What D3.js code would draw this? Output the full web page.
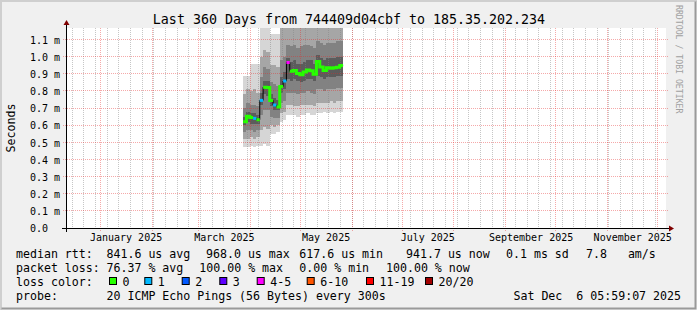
<!DOCTYPE html>
<html>
<head>
<meta charset="utf-8">
<script src="https://cdn.jsdelivr.net/npm/d3@7"></script>
<style>
body{margin:0;background:#fff}
text{font-family:"DejaVu Sans Mono",monospace;fill:#000;white-space:pre}
</style>
</head>
<body>
<svg id="chart"></svg>
<script>
// time window of the graph (UTC)
var timeRange=["2024-12-11T05:59:07Z","2025-12-06T05:59:07Z"];

// samples, every 2 days (values in ms)
var dates=["2025-03-27T12:00Z","2025-03-29T12:00Z","2025-03-31T12:00Z","2025-04-02T12:00Z","2025-04-04T12:00Z",
           "2025-04-06T12:00Z","2025-04-08T12:00Z","2025-04-10T12:00Z","2025-04-12T12:00Z","2025-04-14T12:00Z",
           "2025-04-16T12:00Z","2025-04-18T12:00Z","2025-04-20T12:00Z","2025-04-22T12:00Z","2025-04-24T12:00Z",
           "2025-04-26T12:00Z","2025-04-28T12:00Z","2025-04-30T12:00Z","2025-05-02T12:00Z","2025-05-04T12:00Z",
           "2025-05-06T12:00Z","2025-05-08T12:00Z","2025-05-10T12:00Z","2025-05-12T12:00Z","2025-05-14T12:00Z",
           "2025-05-16T12:00Z","2025-05-18T12:00Z","2025-05-20T12:00Z","2025-05-22T12:00Z","2025-05-24T12:00Z"];
var dataEnd="2025-05-26T12:00Z";
var median=[0.620,0.652,0.645,0.640,0.632, 0.745,0.822,0.820,0.745,0.718, 0.706,0.826,0.858,0.966,0.915,
            0.920,0.902,0.895,0.910,0.922, 0.918,0.898,0.972,0.940,0.920, 0.935,0.932,0.935,0.938,0.948];
var loss=[0,0,0,1,0, 1,0,0,0,1, 0,0,1,4,0, 0,0,0,0,0, 0,0,0,0,0, 0,0,0,0,0];
var pMin=[0.47,0.47,0.48,0.47,0.48, 0.48,0.49,0.48,0.55,0.55, 0.56,0.62,0.63,0.66,0.66,
          0.66,0.65,0.66,0.66,0.67, 0.66,0.66,0.67,0.67,0.68, 0.67,0.68,0.67,0.68,0.68];
var p10=[0.52,0.52,0.53,0.52,0.53, 0.57,0.59,0.58,0.60,0.59, 0.60,0.67,0.68,0.72,0.72,
         0.71,0.71,0.72,0.72,0.72, 0.72,0.71,0.73,0.73,0.73, 0.73,0.74,0.73,0.74,0.74];
var p25=[0.56,0.57,0.57,0.56,0.57, 0.66,0.69,0.69,0.65,0.64, 0.64,0.73,0.74,0.79,0.79,
         0.79,0.78,0.79,0.79,0.80, 0.79,0.78,0.81,0.81,0.80, 0.81,0.81,0.81,0.82,0.82];
var p40=[0.60,0.62,0.61,0.61,0.61, 0.72,0.78,0.77,0.71,0.69, 0.69,0.79,0.81,0.87,0.86,
         0.87,0.86,0.85,0.86,0.87, 0.87,0.86,0.89,0.88,0.87, 0.88,0.88,0.88,0.89,0.89];
var p60=[0.65,0.68,0.67,0.67,0.66, 0.79,0.86,0.86,0.78,0.76, 0.75,0.88,0.91,0.99,0.97,
         0.98,0.96,0.96,0.97,0.98, 0.98,0.96,1.01,0.99,0.98, 0.99,0.99,0.99,1.00,1.00];
var p75=[0.70,0.73,0.72,0.72,0.71, 0.88,0.94,0.93,0.85,0.84, 0.83,0.98,1.00,1.07,1.06,
         1.07,1.05,1.06,1.07,1.07, 1.06,1.05,1.09,1.08,1.07, 1.08,1.08,1.08,1.09,1.09];
var p90=[0.78,0.81,0.80,0.81,0.79, 1.00,1.04,1.03,0.95,0.95, 0.94,1.25,1.25,1.30,1.30,
         1.30,1.30,1.30,1.30,1.30, 1.30,1.30,1.30,1.30,1.30, 1.30,1.30,1.30,1.30,1.30];
var pMax=[0.89,0.89,0.96,0.96,0.96, 1.17,1.17,1.17,1.13,1.13, 1.13,1.30,1.30,1.40,1.40,
          1.40,1.40,1.40,1.40,1.40, 1.40,1.40,1.40,1.40,1.40, 1.40,1.40,1.40,1.40,1.40];

var yTicks=[0,0.1,0.2,0.3,0.4,0.5,0.6,0.7,0.8,0.9,1.0,1.1];
var lossLabels=["0","1","2","3","4-5","6-10","11-19","20/20"];
var lossColors=["#26ff00","#00b8ff","#0059ff","#5e00ff","#ff00ff","#ff5500","#ff0000","#a10000"];
var rttStats=["841.6 us avg","968.0 us max","617.6 us min","941.7 us now","0.1 ms sd","7.8   am/s"];
var lossStats=["76.37 % avg","100.00 % max","0.00 % min","100.00 % now"];
var probeText="20 ICMP Echo Pings (56 Bytes) every 300s";
var stamp="Sat Dec  6 05:59:07 2025";
var title="Last 360 Days from 744409d04cbf to 185.35.202.234";

var W=697,H=310;
var svg=d3.select("#chart").attr("width",W).attr("height",H);

// frame
svg.append("rect").attr("width",W).attr("height",H).attr("fill","#f0f0f0");
svg.append("path").attr("d","M0,309V0H696").attr("fill","none").attr("stroke","#cfcfcf").attr("stroke-width",2).attr("transform","translate(1,1)");
svg.append("path").attr("d","M1,308H695V1").attr("fill","none").attr("stroke","#9a9a9a").attr("stroke-width",2).attr("transform","translate(0.5,0.5)");

var x=d3.scaleUtc().domain(timeRange.map(d3.isoParse)).range([66,666]);
var y=d3.scaleLinear().domain([0,1.1675]).range([228,28]);
var px=function(v){return Math.floor(v)+0.5;};

svg.append("rect").attr("x",66).attr("y",28).attr("width",600).attr("height",200).attr("fill","#fff");

var rows=dates.map(function(d,i){
  return {t:d3.isoParse(d),med:median[i],loss:loss[i],
          lo:[pMin[i],p10[i],p25[i],p40[i]],hi:[pMax[i],p90[i],p75[i],p60[i]]};
});
var rowsEnd=rows.concat([Object.assign({},rows[rows.length-1],{t:d3.isoParse(dataEnd)})]);

svg.append("clipPath").attr("id","plotclip").append("rect")
   .attr("x",66).attr("y",28).attr("width",600).attr("height",200);
var plot=svg.append("g").attr("clip-path","url(#plotclip)");

// smoke
var smoke=["#d6d6d6","#a6a6a6","#828282","#5c5c5c"];
smoke.forEach(function(c,k){
  plot.append("path").datum(rowsEnd)
      .attr("fill",c).attr("shape-rendering","crispEdges")
      .attr("d",d3.area().curve(d3.curveStepAfter)
                 .x(function(d){return x(d.t);})
                 .y0(function(d){return y(d.lo[k]);})
                 .y1(function(d){return y(d.hi[k]);}));
});

// grid
var t0=x.domain()[0],t1=x.domain()[1];
var grid=svg.append("g");
grid.selectAll(".minor").data(d3.utcSunday.range(t0,t1)).enter().append("line")
    .attr("x1",function(d){return px(x(d));}).attr("x2",function(d){return px(x(d));})
    .attr("y1",28).attr("y2",230)
    .attr("stroke","rgba(128,128,128,0.45)").attr("stroke-dasharray","1,1");
grid.selectAll(".major").data(d3.utcMonth.range(t0,t1)).enter().append("line")
    .attr("x1",function(d){return px(x(d));}).attr("x2",function(d){return px(x(d));})
    .attr("y1",28).attr("y2",231)
    .attr("stroke","rgba(230,40,40,0.4)").attr("stroke-dasharray","1,1");
grid.selectAll(".hgrid").data(yTicks.slice(1)).enter().append("line")
    .attr("x1",63).attr("x2",669)
    .attr("y1",function(d){return px(y(d));}).attr("y2",function(d){return px(y(d));})
    .attr("stroke","rgba(230,40,40,0.4)").attr("stroke-dasharray","1,1");

// median, coloured by loss
var lossClass=function(n){return n<=3?n:n<=5?4:n<=10?5:n<=19?6:7;};
var medLine=d3.line().curve(d3.curveStepAfter)
              .x(function(d){return x(d.t);}).y(function(d){return y(d.med);});
svg.append("path").datum(rowsEnd).attr("d",medLine)
   .attr("fill","none").attr("stroke","#000").attr("stroke-width",1);
var runs=[],cur=null;
rows.forEach(function(r,i){
  var c=lossClass(r.loss);
  if(!cur||cur.c!==c){cur={c:c,pts:[]};runs.push(cur);}
  cur.pts.push(r);
  var nextT=i+1<rows.length?rows[i+1].t:d3.isoParse(dataEnd);
  if(i+1===rows.length||lossClass(rows[i+1].loss)!==c) cur.pts.push({t:nextT,med:r.med});
});
svg.selectAll(".run").data(runs).enter().append("path")
   .attr("d",function(d){return medLine(d.pts);})
   .attr("fill","none").attr("stroke-width",3)
   .attr("stroke",function(d){return lossColors[d.c];});

// axes
svg.append("line").attr("x1",62).attr("x2",670).attr("y1",228.5).attr("y2",228.5).attr("stroke","#000");
svg.append("line").attr("x1",66.5).attr("x2",66.5).attr("y1",232).attr("y2",24).attr("stroke","#000");
svg.append("path").attr("d","M669,225.5L674,228.5L669,231.5Z").attr("fill","#7f0000");
svg.append("path").attr("d","M63.5,25L66.5,20L69.5,25Z").attr("fill","#7f0000");

var labelMonths=d3.utcMonth.range(t0,t1).filter(function(d){return d.getUTCMonth()%2===0;});
var xAxis=d3.axisBottom(x)
            .tickValues(labelMonths.map(function(d){return d3.utcDay.offset(d,15);}))
            .tickFormat(function(d){return d3.utcFormat("%B %Y")(d3.utcDay.offset(d,-15));})
            .tickSize(0).tickPadding(0);
var gx=svg.append("g").attr("transform","translate(0,232)").call(xAxis);
gx.select(".domain").remove();
gx.selectAll("text").attr("font-family","DejaVu Sans Mono").attr("font-size","10px").attr("dy","9px").attr("fill","#000");

var yAxis=d3.axisLeft(y).tickValues(yTicks)
            .tickFormat(function(d){return d===0?"0.0":d3.format(".1f")(d)+" m";})
            .tickSize(0);
var gy=svg.append("g").attr("transform","translate(66,0.5)").call(yAxis);
gy.select(".domain").remove();
gy.selectAll("text").attr("text-anchor","start").attr("x",-36)
  .attr("font-family","DejaVu Sans Mono").attr("font-size","10px").attr("fill","#000");

// titles
svg.append("text").attr("x",349).attr("y",24).attr("text-anchor","middle")
   .attr("font-size","13.3px").text(title);
svg.append("text").attr("transform","translate(15,128) rotate(-90)").attr("text-anchor","middle")
   .attr("font-size","11.6px").text("Seconds");
svg.append("text").attr("transform","translate(676,5) rotate(90)")
   .attr("font-size","8.2px").style("fill","#a0a0a0").text("RRDTOOL / TOBI OETIKER");

// legend
var leg=svg.append("g").attr("font-size","11.6px");
var rttX=[106.5,206,299.3,406,506,586];
var lossX=[106.5,199.3,299.3,386];
leg.append("text").attr("x",16).attr("y",257.5).text("median rtt:");
rttStats.forEach(function(s,i){leg.append("text").attr("x",rttX[i]).attr("y",257.5).text(s);});
leg.append("text").attr("x",16).attr("y",272).text("packet loss:");
lossStats.forEach(function(s,i){leg.append("text").attr("x",lossX[i]).attr("y",272).text(s);});
leg.append("text").attr("x",16).attr("y",286).text("loss color:");
var boxX=[109,144.3,181.7,219.3,256.7,306.7,366,425];
lossLabels.forEach(function(s,i){
  leg.append("rect").attr("x",boxX[i]+0.5).attr("y",277.5).attr("width",7).attr("height",7)
     .attr("fill",lossColors[i]).attr("stroke","#000");
  leg.append("text").attr("x",boxX[i]+13.5).attr("y",286).text(s);
});
leg.append("text").attr("x",16).attr("y",300).text("probe:");
leg.append("text").attr("x",106.5).attr("y",300).text(probeText);
leg.append("text").attr("x",681).attr("y",300).attr("text-anchor","end").text(stamp);
</script>
</body>
</html>
